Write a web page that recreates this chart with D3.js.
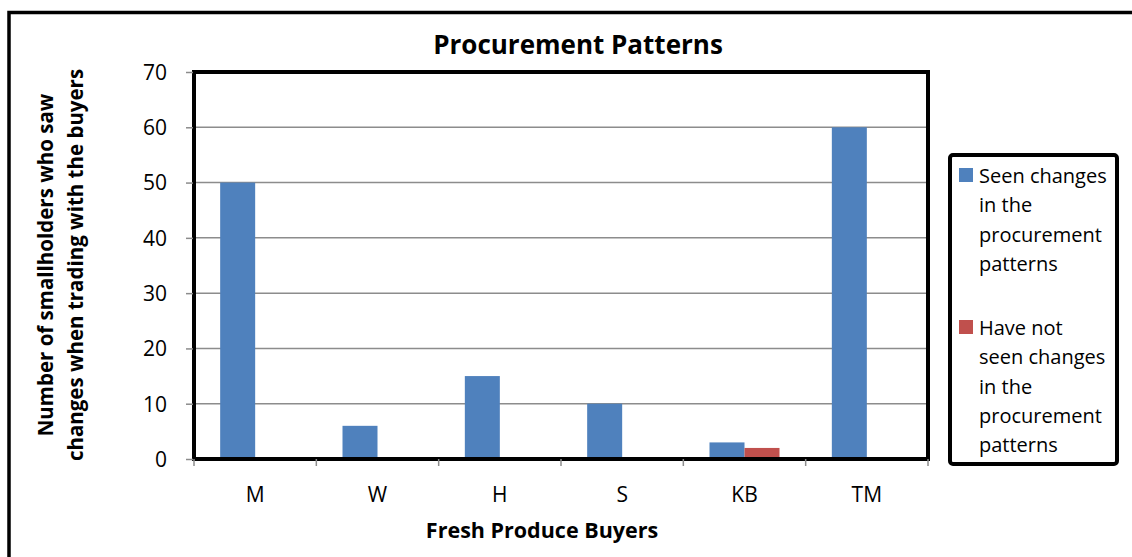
<!DOCTYPE html>
<html><head><meta charset="utf-8">
<script src="https://cdn.jsdelivr.net/npm/d3@7"></script>
<style>body{margin:0;background:#fff}svg{display:block}text{font-family:"Open Sans",sans-serif}</style>
</head><body>
<svg id="c" width="1132" height="557"></svg>
<script>
const categories = ["M","W","H","S","KB","TM"];
const seenChanges = [50,6,15,10,3,60];
const notSeenChanges = [0,0,0,0,2,0];
const seriesNames = ["Seen changes in the procurement patterns","Have not seen changes in the procurement patterns"];
const yTicks = [0,10,20,30,40,50,60,70];
const colors = ["#4F81BD","#C0504D"];

const svg = d3.select("#c");
const m = {l:194, r:928, t:72, b:459};
// outer border
svg.append("rect").attr("x",9).attr("y",12.5).attr("width",1140).attr("height",560)
  .attr("fill","none").attr("stroke","#000").attr("stroke-width",3.5);

const x = d3.scaleBand().domain(categories).range([m.l,m.r]);
const y = d3.scaleLinear().domain([0,70]).range([m.b,m.t]);

// grid
svg.append("g").selectAll("line").data(yTicks.filter(d=>d>0 && d<70)).join("line")
  .attr("x1",m.l).attr("x2",m.r).attr("y1",d=>y(d)).attr("y2",d=>y(d))
  .attr("stroke","#8c8c8c").attr("stroke-width",1.5);

// bars
const bw = 35;
const data = categories.map((c,i)=>({c, v:[seenChanges[i], notSeenChanges[i]]}));
const g = svg.append("g");
data.forEach(d=>{
  d.v.forEach((v,j)=>{
    if(v<=0) return;
    const cx = x(d.c)+x.bandwidth()/2;
    g.append("rect").attr("x", cx - bw + j*bw).attr("width",bw)
      .attr("y",y(v)).attr("height",y(0)-y(v)).attr("fill",colors[j]);
  });
});

// plot border
svg.append("rect").attr("x",m.l).attr("y",m.t).attr("width",m.r-m.l).attr("height",m.b-m.t)
  .attr("fill","none").attr("stroke","#000").attr("stroke-width",4);

// y axis
const ya = svg.append("g").attr("transform",`translate(${m.l-1},0)`)
  .call(d3.axisLeft(y).tickValues(yTicks).tickSize(7).tickSizeOuter(0));
ya.select(".domain").remove();
ya.selectAll(".tick line").attr("stroke","#8c8c8c").attr("stroke-width",1.5);
ya.selectAll(".tick text").attr("font-size",21).attr("fill","#000").attr("x",-26).attr("dy","0.35em")
  .style("font-family","'Open Sans',sans-serif");

// x axis
const xa = svg.append("g").attr("transform",`translate(0,${m.b+1})`)
  .call(d3.axisBottom(x).tickSize(0).tickSizeOuter(0));
xa.select(".domain").remove();
xa.selectAll(".tick text").attr("font-size",21).attr("fill","#000").attr("y",42).attr("dy",0)
  .style("font-family","'Open Sans',sans-serif");
const bounds = [...categories.map(c=>x(c)), m.r];
svg.append("g").selectAll("line").data(bounds).join("line")
  .attr("x1",d=>d).attr("x2",d=>d).attr("y1",m.b).attr("y2",m.b+7)
  .attr("stroke","#8c8c8c").attr("stroke-width",1.5);

// title
svg.append("text").attr("x",578).attr("y",54).attr("text-anchor","middle")
  .attr("font-size",26).attr("font-weight","bold").text("Procurement Patterns");
svg.append("text").attr("x",542).attr("y",538).attr("text-anchor","middle")
  .attr("font-size",21.5).attr("font-weight","bold").text("Fresh Produce Buyers");
const yt = svg.append("text").attr("transform","translate(0,265) rotate(-90)")
  .attr("text-anchor","middle").attr("font-size",20.5).attr("font-weight","bold");
yt.append("tspan").attr("x",0).attr("y",53).text("Number of smallholders who saw");
yt.append("tspan").attr("x",0).attr("y",83).text("changes when trading with the buyers");

// legend
svg.append("rect").attr("x",950).attr("y",155).attr("width",167).attr("height",309).attr("rx",3)
  .attr("fill","#fff").attr("stroke","#000").attr("stroke-width",4);
const legLines = [["Seen changes","in the","procurement","patterns"],["Have not","seen changes","in the","procurement","patterns"]];
const legY = [183, 335];
legLines.forEach((lines,i)=>{
  svg.append("rect").attr("x",959).attr("y",legY[i]-15).attr("width",14).attr("height",14).attr("fill",colors[i]);
  const t = svg.append("text").attr("font-size",20).attr("fill","#000");
  lines.forEach((l,k)=>t.append("tspan").attr("x",979).attr("y",legY[i]+k*29.3).text(l));
});
</script>
</body></html>
